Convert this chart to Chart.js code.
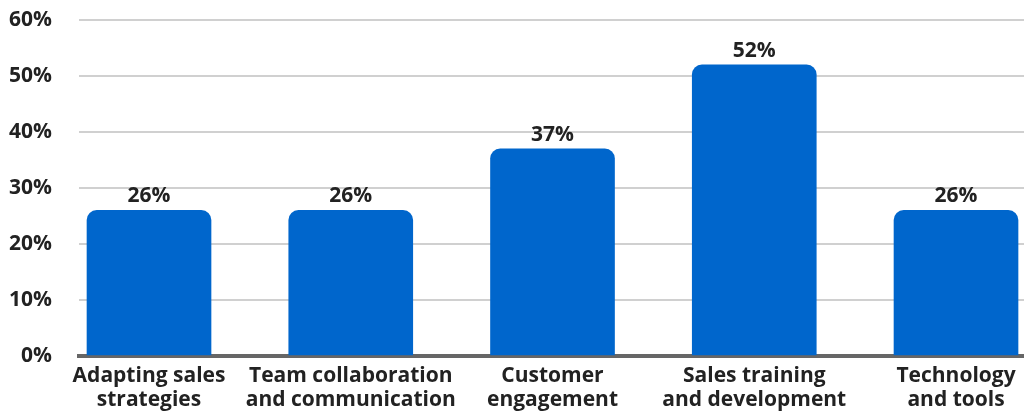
<!DOCTYPE html>
<html lang="en">
<head>
<meta charset="UTF-8">
<title>Sales focus areas</title>
<script src="https://cdn.jsdelivr.net/npm/chart.js"></script>
<style>
  * { margin: 0; padding: 0; box-sizing: border-box; }
  body { background: #fff; width: 1024px; height: 412px; overflow: hidden; }
</style>
</head>
<body>
<canvas id="barChart" width="1024" height="412"></canvas>
<script>
// categories (each split into the two lines shown under the bar)
const categories = [
  ["Adapting sales", "strategies"],
  ["Team collaboration", "and communication"],
  ["Customer", "engagement"],
  ["Sales training", "and development"],
  ["Technology", "and tools"]
];
const shares = [26, 26, 37, 52, 26];
const yTicks = [0, 10, 20, 30, 40, 50, 60];

const FONT = "'Open Sans', sans-serif";
const TEXT = "#222222";

// value labels above each bar
const valueLabels = {
  id: "valueLabels",
  afterDatasetsDraw(chart) {
    const ctx = chart.ctx;
    const meta = chart.getDatasetMeta(0);
    ctx.save();
    ctx.font = "bold 21px " + FONT;
    ctx.fillStyle = TEXT;
    ctx.textAlign = "center";
    ctx.textBaseline = "alphabetic";
    meta.data.forEach((bar, i) => {
      ctx.fillText(shares[i] + "%", bar.x, bar.y - 8);
    });
    ctx.restore();
  }
};

new Chart(document.getElementById("barChart"), {
  type: "bar",
  data: {
    datasets: [{
      data: shares.map((v, i) => ({ x: i, y: v })),
      backgroundColor: "#0066cc",
      barThickness: 124,
      borderRadius: { topLeft: 10, topRight: 10, bottomLeft: 0, bottomRight: 0 },
      borderSkipped: "start"
    }]
  },
  options: {
    responsive: false,
    animation: false,
    layout: { padding: { top: 20, left: 6, right: 0, bottom: 0 } },
    plugins: { legend: { display: false }, tooltip: { enabled: false } },
    scales: {
      x: {
        type: "linear",
        offset: false,
        min: -0.347,
        max: 4.337,
        afterBuildTicks(scale) {
          scale.ticks = categories.map((c, i) => ({ value: i }));
        },
        afterFit(scale) {
          scale.paddingLeft = 0;
          scale.paddingRight = 0;
          scale.height = 56;
        },
        grid: { display: false, drawTicks: false },
        border: { display: true, color: "#666666", width: 4 },
        ticks: {
          autoSkip: false,
          maxRotation: 0,
          padding: 8,
          color: TEXT,
          font: { family: FONT, size: 21, weight: "bold", lineHeight: 1.15 },
          callback: v => categories[v]
        }
      },
      y: {
        min: 0,
        max: 60,
        afterBuildTicks(scale) {
          scale.ticks = yTicks.map(v => ({ value: v }));
        },
        afterFit(scale) {
          scale.paddingTop = 0;
          scale.paddingBottom = 0;
          scale.width = 73;
        },
        grid: { color: "#d0d0d0", lineWidth: 2, drawTicks: false },
        border: { display: false },
        ticks: {
          padding: 27,
          color: TEXT,
          font: { family: FONT, size: 21, weight: "bold" },
          callback: v => v + "%"
        }
      }
    }
  },
  plugins: [valueLabels]
});
</script>
</body>
</html>
